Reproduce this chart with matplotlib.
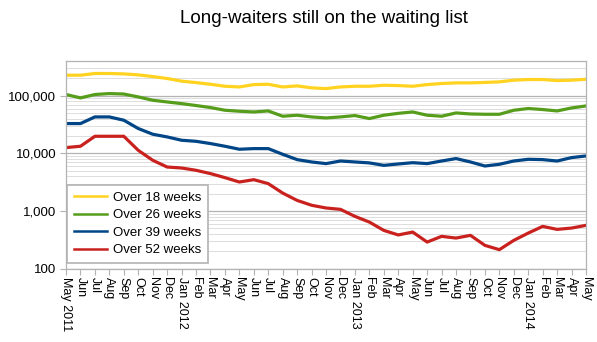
import numpy as np
import matplotlib.pyplot as plt
from matplotlib.ticker import FixedLocator, FuncFormatter, NullFormatter

plt.rcParams['font.family'] = ['Liberation Sans', 'DejaVu Sans']

# months May 2011 .. May 2014
month_labels = ['May 2011', 'Jun', 'Jul', 'Aug', 'Sep', 'Oct', 'Nov', 'Dec',
                'Jan 2012', 'Feb', 'Mar', 'Apr', 'May', 'Jun', 'Jul', 'Aug', 'Sep', 'Oct', 'Nov', 'Dec',
                'Jan 2013', 'Feb', 'Mar', 'Apr', 'May', 'Jun', 'Jul', 'Aug', 'Sep', 'Oct', 'Nov', 'Dec',
                'Jan 2014', 'Feb', 'Mar', 'Apr', 'May']

over18 = [227000, 227000, 243000, 243000, 239000, 230000, 215000, 199000, 179000, 169000,
          158000, 146000, 142000, 156000, 158000, 142000, 148000, 137000, 133000, 142000,
          146000, 146000, 152000, 150000, 146000, 156000, 163000, 167000, 167000, 170000,
          174000, 186000, 191000, 191000, 183000, 186000, 193000]
over26 = [105000, 91600, 105000, 109000, 107000, 95300, 83500, 78000, 73000, 67600,
          62400, 56000, 53800, 52300, 54500, 44100, 45900, 42900, 41200, 42900,
          45300, 40200, 45900, 49500, 52300, 45900, 44100, 50300, 48300, 47700,
          47700, 56000, 60000, 57600, 54500, 61400, 66500]
over39 = [32900, 32900, 42900, 42900, 37600, 27000, 21500, 19300, 16900, 16200,
          14800, 13300, 11800, 12100, 12100, 9640, 7800, 7100, 6650, 7380,
          7100, 6840, 6200, 6550, 6900, 6650, 7380, 8130, 7100, 6040,
          6470, 7380, 7900, 7800, 7380, 8450, 9020]
over52 = [12600, 13300, 19800, 19800, 19800, 11300, 7600, 5800, 5580, 5090,
          4460, 3800, 3190, 3500, 2990, 2050, 1530, 1260, 1130, 1070,
          809, 644, 462, 385, 432, 290, 364, 340, 379, 254,
          214, 310, 415, 542, 481, 507, 565]

series = [('Over 18 weeks', over18, '#FFD320'),
          ('Over 26 weeks', over26, '#579D1C'),
          ('Over 39 weeks', over39, '#004586'),
          ('Over 52 weeks', over52, '#C9211E')]

fig = plt.figure(figsize=(5.97, 3.42), dpi=100)
ax = fig.add_axes([0.1106, 0.2143, 0.8710, 0.6073])

x = np.arange(len(month_labels))
for name, vals, col in series:
    ax.plot(x, vals, color=col, lw=2.3, label=name, solid_joinstyle='round')

ax.set_yscale('log')
ax.set_ylim(100, 400000)
ax.set_xlim(0, len(month_labels) - 1)

ax.yaxis.set_major_locator(FixedLocator([100, 1000, 10000, 100000]))
ax.yaxis.set_major_formatter(FuncFormatter(lambda v, p: '{:,.0f}'.format(v)))
minors = [m * 10 ** k for k in range(2, 6) for m in range(2, 10) if m * 10 ** k <= 400000]
ax.yaxis.set_minor_locator(FixedLocator(minors))
ax.yaxis.set_minor_formatter(NullFormatter())
ax.grid(True, which='major', axis='y', color='#b3b3b3', lw=0.9)
ax.grid(True, which='minor', axis='y', color='#dddddd', lw=0.7)
ax.set_axisbelow(True)

ax.set_xticks(x)
ax.set_xticklabels(month_labels, rotation=270, fontsize=9)
ax.tick_params(axis='x', length=4, color='#b3b3b3', pad=2)
ax.tick_params(axis='y', which='major', length=4, color='#b3b3b3', labelsize=9.5, pad=3)
ax.tick_params(axis='y', which='minor', length=0)

for s in ax.spines.values():
    s.set_color('#b3b3b3')
    s.set_linewidth(0.9)

leg = ax.legend(loc='lower left', bbox_to_anchor=(0.002, 0.028), borderaxespad=0,
                fontsize=9.5, fancybox=False, framealpha=1, edgecolor='#b3b3b3',
                handlelength=2.5, borderpad=0.5, labelspacing=0.4, handletextpad=0.45)
for line in leg.get_lines():
    line.set_linewidth(1.8)
leg.get_frame().set_linewidth(1.2)

fig.text(0.543, 0.945, 'Long-waiters still on the waiting list', ha='center', va='center', fontsize=13.5)

fig.savefig('out.png', dpi=100)
